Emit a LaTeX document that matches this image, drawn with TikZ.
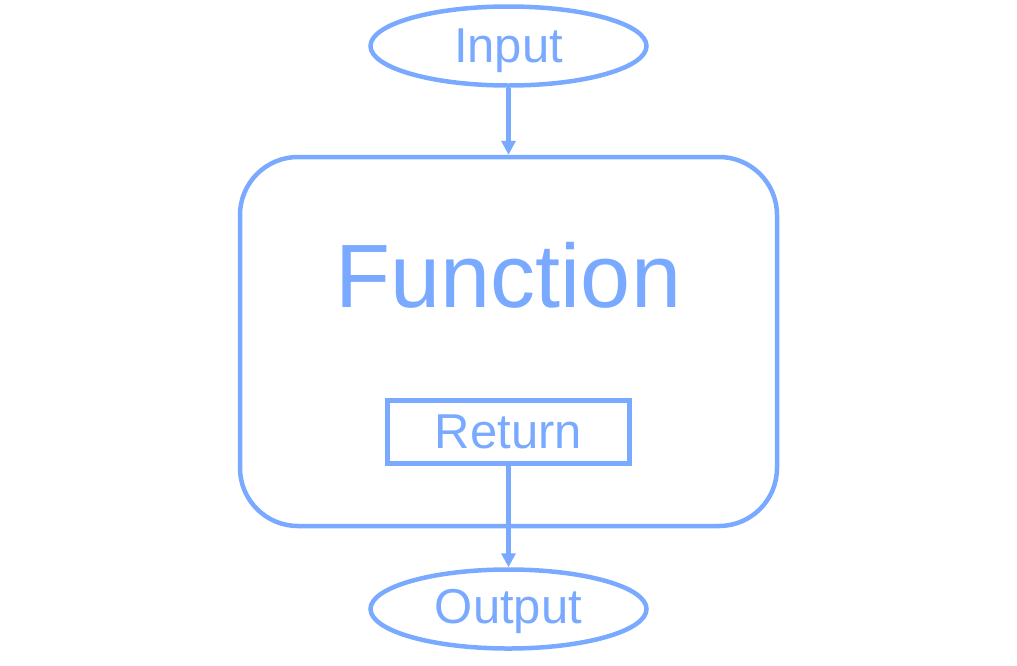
\documentclass[tikz,border=0pt]{standalone}
\usepackage{fontspec}
\setmainfont{Liberation Sans}
\usetikzlibrary{shapes.geometric,arrows.meta}
\definecolor{fblue}{RGB}{122,170,255}
\begin{document}
\begin{tikzpicture}[x=1pt,y=-1pt,
  every node/.style={text=fblue},
  term/.style={ellipse,draw=fblue,line width=4.5pt,minimum width=276pt,minimum height=79pt,inner sep=0pt,text depth=0pt,font=\fontsize{49}{49}\selectfont},
  funcbox/.style={draw=fblue,line width=4.5pt,rounded corners=58pt,minimum width=537pt,minimum height=369pt,inner sep=0pt},
  retbox/.style={draw=fblue,line width=4.5pt,minimum width=242pt,minimum height=63pt,inner sep=0pt,text depth=0pt,font=\fontsize{49}{49}\selectfont},
  flow/.style={draw=fblue,line width=4.5pt,-{Triangle[width=14pt,length=14pt]}}]
\useasboundingbox (0,0) rectangle (1017,665);
\node[term] (in) at (508.5,46) {Input};
\node[funcbox] (fn) at (508.5,341.5) {};
\node[anchor=base,font=\fontsize{90}{90}\selectfont] (fntext) at (508.5,307) {Function};
\node[retbox] (ret) at (508.5,432) {Return};
\node[term,text depth=6pt] (out) at (508.5,609) {Output};
\draw[flow] (in) -- (fn.north);
\draw[flow] (ret) -- (out);
\end{tikzpicture}
\end{document}
